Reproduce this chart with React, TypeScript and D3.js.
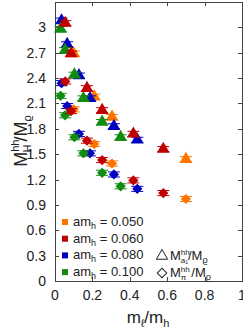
import React, { useEffect, useRef } from 'react';
import * as d3 from 'd3';

// m_l / m_h and the two mass ratios for each am_h
const labels = ['0.050', '0.060', '0.080', '0.100'];
const colors = ['#ff7400', '#c00000', '#0000c0', '#108c10'];

const ratio050 = [0.1, 0.21, 0.305, 0.7];
const a1050 = [2.69, 2.18, 1.94, 1.44];
const pi050 = [2.03, 1.62, 1.39, 0.97];

const ratio060 = [0.055, 0.086, 0.171, 0.252, 0.419, 0.579];
const a1060 = [3.05, 2.69, 2.28, 2.02, 1.74, 1.56];
const pi060 = [2.36, 2.01, 1.66, 1.43, 1.19, 1.04];

const ratio080 = [0.035, 0.065, 0.128, 0.187, 0.315, 0.44];
const a1080 = [3.08, 2.8, 2.43, 2.16, 1.83, 1.67];
const pi080 = [2.34, 2.07, 1.74, 1.51, 1.26, 1.09];

const ratio100 = [0.03, 0.054, 0.104, 0.152, 0.252, 0.351];
const a1100 = [2.98, 2.73, 2.44, 2.16, 1.88, 1.7];
const pi100 = [2.19, 1.96, 1.7, 1.51, 1.28, 1.12];

const xTicks = [0, 0.2, 0.4, 0.6, 0.8, 1];
const yTicks = [0, 0.3, 0.6, 0.9, 1.2, 1.5, 1.8, 2.1, 2.4, 2.7, 3];

const series = [
  { ratio: ratio050, a1: a1050, pi: pi050, c: colors[0] },
  { ratio: ratio080, a1: a1080, pi: pi080, c: colors[2] },
  { ratio: ratio100, a1: a1100, pi: pi100, c: colors[3] },
  { ratio: ratio060, a1: a1060, pi: pi060, c: colors[1] },
];

const font = "'Liberation Sans', Arial, sans-serif";

const App = () => {
  const ref = useRef<HTMLDivElement>(null);

  useEffect(() => {
    if (ref.current) draw();
  }, []);

  const draw = () => {
    const width = 243,
      height = 330,
      left = 55,
      right = 242,
      top = 2,
      bottom = 281;

    d3.select(ref.current).selectAll('*').remove();
    const svg = d3
      .select(ref.current)
      .append('svg')
      .attr('width', width)
      .attr('height', height)
      .style('position', 'absolute')
      .style('left', 0)
      .style('top', 0)
      .style('font-family', font);

    const x = d3.scaleLinear().domain([0, 1]).range([left, right]);
    const y = d3.scaleLinear().domain([0, 3.3]).range([bottom, top]);

    // frame + ticks
    const ax = svg.append('g').attr('stroke', '#444').attr('stroke-width', 1);
    ax.append('rect')
      .attr('x', left + 0.5)
      .attr('y', top + 0.5)
      .attr('width', right - left)
      .attr('height', bottom - top)
      .attr('fill', 'none');
    xTicks.forEach((t) => {
      const px = Math.round(x(t)) + 0.5;
      ax.append('line').attr('x1', px).attr('x2', px).attr('y1', bottom).attr('y2', bottom - 4);
      ax.append('line').attr('x1', px).attr('x2', px).attr('y1', top).attr('y2', top + 4);
    });
    yTicks.forEach((t) => {
      const py = Math.round(y(t)) + 0.5;
      ax.append('line').attr('x1', left).attr('x2', left + 4).attr('y1', py).attr('y2', py);
      ax.append('line').attr('x1', right).attr('x2', right - 4).attr('y1', py).attr('y2', py);
    });

    svg
      .append('g')
      .selectAll('text')
      .data(xTicks)
      .join('text')
      .attr('x', (d) => x(d))
      .attr('y', bottom + 19)
      .attr('text-anchor', 'middle')
      .attr('font-size', 14)
      .attr('fill', '#222')
      .text((d) => d3.format('~g')(d));

    svg
      .append('g')
      .selectAll('text')
      .data(yTicks)
      .join('text')
      .attr('x', left - 9)
      .attr('y', (d) => y(d) + 5)
      .attr('text-anchor', 'end')
      .attr('font-size', 14)
      .attr('fill', '#222')
      .text((d) => d3.format('~g')(d));

    // data
    const tri = d3.symbol().type(d3.symbolTriangle).size(72);
    const dia = d3.symbol().type(d3.symbolSquare).size(52);
    const err = 0.03;

    series.forEach((s) => {
      const g = svg.append('g');
      const pts = s.ratio.map((r, i) => ({ r, a1: s.a1[i], pi: s.pi[i] }));
      pts.forEach((p) => {
        [p.a1, p.pi].forEach((v) => {
          const px = x(p.r);
          g.append('path')
            .attr(
              'd',
              `M${px},${y(v - err)}V${y(v + err)}M${px - 6},${y(v - err)}H${px + 6}M${px - 6},${y(v + err)}H${px + 6}`
            )
            .attr('stroke', s.c)
            .attr('stroke-width', 1)
            .attr('fill', 'none');
        });
        g.append('path')
          .attr('transform', `translate(${x(p.r)},${y(p.a1)})`)
          .attr('d', tri)
          .attr('fill', s.c);
        g.append('path')
          .attr('transform', `translate(${x(p.r)},${y(p.pi)})rotate(45)`)
          .attr('d', dia)
          .attr('fill', s.c);
      });
    });

    // legend
    const lg = svg.append('g').attr('font-size', 13).attr('fill', '#222');
    labels.forEach((l, i) => {
      const ly = 222 + i * 16.7;
      lg.append('rect')
        .attr('x', 62)
        .attr('y', ly - 3)
        .attr('width', 6)
        .attr('height', 6)
        .attr('fill', colors[i]);
      const t = lg.append('text').attr('x', 73).attr('y', ly + 4);
      t.append('tspan').text('am');
      t.append('tspan').attr('font-size', 9).attr('dy', 3).text('h');
      t.append('tspan').attr('dy', -3).text(' = ' + l);
    });

    lg.append('path')
      .attr('transform', 'translate(162,256)')
      .attr('d', d3.symbol().type(d3.symbolTriangle).size(55)())
      .attr('fill', 'none')
      .attr('stroke', '#222');
    lg.append('path')
      .attr('transform', 'translate(162,273)rotate(45)')
      .attr('d', d3.symbol().type(d3.symbolSquare).size(45)())
      .attr('fill', 'none')
      .attr('stroke', '#222');

    const ta = lg.append('text').attr('x', 170).attr('y', 260);
    ta.append('tspan').text('M');
    ta.append('tspan').attr('font-size', 8).attr('dy', -5).text('hh');
    ta.append('tspan').attr('font-size', 8).attr('dx', -9).attr('dy', 8).text('a');
    ta.append('tspan').attr('font-size', 5).attr('dy', 1).text('1');
    ta.append('tspan').attr('dy', -4).text('/M');
    ta.append('tspan').attr('font-size', 9).attr('dy', 3).text('ϱ');

    const tp = lg.append('text').attr('x', 170).attr('y', 277);
    tp.append('tspan').text('M');
    tp.append('tspan').attr('font-size', 8).attr('dy', -5).text('hh');
    tp.append('tspan').attr('font-size', 8).attr('dx', -9).attr('dy', 8).text('π');
    tp.append('tspan').attr('dx', 5).attr('dy', -3).text('/M');
    tp.append('tspan').attr('font-size', 9).attr('dy', 3).text('ϱ');

    // axis titles
    const xl = svg
      .append('text')
      .attr('x', 148)
      .attr('y', 323)
      .attr('text-anchor', 'middle')
      .attr('font-size', 17)
      .attr('fill', '#222');
    xl.append('tspan').text('m');
    xl.append('tspan').attr('font-size', 11).attr('dy', 4).text('ℓ');
    xl.append('tspan').attr('dy', -4).text('/m');
    xl.append('tspan').attr('font-size', 11).attr('dy', 4).text('h');

    const yl = svg
      .append('text')
      .attr('transform', 'translate(27,141)rotate(-90)')
      .attr('text-anchor', 'middle')
      .attr('font-size', 18)
      .attr('fill', '#222');
    yl.append('tspan').text('M');
    yl.append('tspan').attr('font-size', 11).attr('dy', -8).text('hh');
    yl.append('tspan').attr('font-size', 11).attr('dx', -13).attr('dy', 12).text('H');
    yl.append('tspan').attr('dx', 3).attr('dy', -4).text('/M');
    yl.append('tspan').attr('font-size', 11).attr('dy', 4).text('ϱ');
  };

  return <div id="chart" ref={ref} />;
};

export default App;
